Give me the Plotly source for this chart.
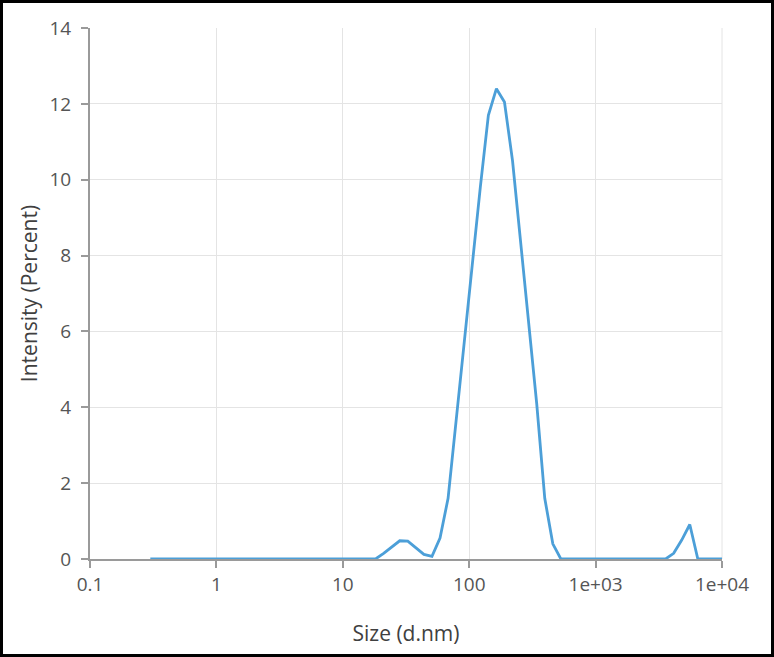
import plotly.graph_objects as go

# Size bins (d.nm) and intensity (%)
size_nm = [0.3, 0.4, 0.4632, 0.5365, 0.6213, 0.7195, 0.8332, 0.9649, 1.117, 1.294,
           1.499, 1.736, 2.010, 2.328, 2.696, 3.122, 3.615, 4.187, 4.849, 5.615,
           6.503, 7.531, 8.721, 10.10, 11.70, 13.54, 15.69, 18.17, 21.04, 24.36,
           28.21, 32.67, 37.84, 43.82, 50.75, 58.77, 68.06, 78.82, 91.28, 105.7,
           122.4, 141.8, 164.2, 190.1, 220.2, 255.0, 295.3, 342.0, 396.1, 458.7,
           531.2, 615.1, 712.4, 825.0, 955.4, 1106, 1281, 1484, 1718, 1990,
           2305, 2669, 3091, 3580, 4145, 4801, 5560, 6439, 7456, 8635, 10000]
intensity = [0, 0, 0, 0, 0, 0, 0, 0, 0, 0,
             0, 0, 0, 0, 0, 0, 0, 0, 0, 0,
             0, 0, 0, 0, 0, 0, 0, 0, 0.15, 0.32,
             0.48, 0.47, 0.30, 0.12, 0.07, 0.55, 1.6, 3.6, 5.7, 7.75,
             9.8, 11.7, 12.4, 12.05, 10.5, 8.3, 6.2, 4.1, 1.6, 0.4,
             0, 0, 0, 0, 0, 0, 0, 0, 0, 0,
             0, 0, 0, 0, 0.15, 0.5, 0.91, 0, 0, 0, 0]

x_tickvals = [0.1, 1, 10, 100, 1000, 10000]
x_ticktext = ["0.1", "1", "10", "100", "1e+03", "1e+04"]
y_tickvals = [0, 2, 4, 6, 8, 10, 12, 14]

W, H = 774, 657
ML, MR, MT, MB = 90, 52, 28, 98
pw, ph = W - ML - MR, H - MT - MB

font_family = "Open Sans, Noto Sans, sans-serif"
tick_color = "#555555"
axis_color = "#9a9a9a"
grid_color = "#e4e4e4"

fig = go.Figure()
fig.add_trace(go.Scatter(
    x=size_nm, y=intensity, mode="lines",
    line=dict(color="#4c9fd8", width=2.8),
    hoverinfo="x+y", showlegend=False,
))

fig.update_layout(
    width=W, height=H,
    margin=dict(l=ML, r=MR, t=MT, b=MB, pad=0),
    paper_bgcolor="white", plot_bgcolor="white",
    font=dict(family=font_family, color=tick_color, size=19),
    xaxis=dict(
        type="log", range=[-1, 4],
        tickmode="array", tickvals=x_tickvals, ticktext=x_ticktext,
        showgrid=True, gridcolor=grid_color, gridwidth=1,
        showline=True, linecolor=axis_color, linewidth=2,
        ticks="outside", ticklen=7, tickcolor=axis_color, tickwidth=2,
        tickfont=dict(size=19, color=tick_color),
        title=dict(text="Size (d.nm)", font=dict(size=21, color="#404040"), standoff=31),
        zeroline=False, mirror=False,
    ),
    yaxis=dict(
        range=[0, 14],
        tickmode="array", tickvals=y_tickvals,
        showgrid=True, gridcolor=grid_color, gridwidth=1,
        showline=True, linecolor=axis_color, linewidth=2,
        ticks="outside", ticklen=7, tickcolor=axis_color, tickwidth=2,
        tickfont=dict(size=19, color=tick_color),
        ticklabelstandoff=6,
        title=dict(text="Intensity (Percent)", font=dict(size=21, color="#404040"), standoff=6),
        zeroline=False,
    ),
)

# right-edge vertical grid line at the plot border
fig.add_shape(type="line", xref="paper", yref="paper", x0=1, x1=1, y0=0, y1=1,
              line=dict(color=grid_color, width=1), layer="below")

# black outer frame of the image
fig.add_shape(type="rect", xref="paper", yref="paper",
              x0=(1.5 - ML) / pw, x1=(W - 1.5 - ML) / pw,
              y0=-(MB - 1.5) / ph, y1=1 + (MT - 1.5) / ph,
              line=dict(color="black", width=3), fillcolor="rgba(0,0,0,0)")

fig.write_html("out.html")
